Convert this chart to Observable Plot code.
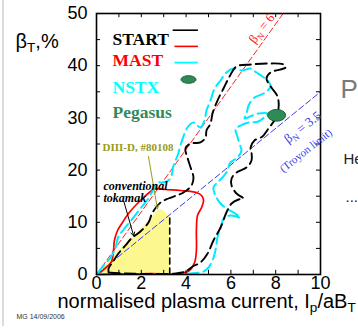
<!DOCTYPE html>
<html>
<head>
<meta charset="utf-8">
<script src="https://cdn.jsdelivr.net/npm/d3@7"></script>
<script src="https://cdn.jsdelivr.net/npm/@observablehq/plot@0.6"></script>
<style>
  html, body { margin: 0; padding: 0; background: white; }
  #wrap { position: relative; width: 358px; height: 328px; overflow: hidden; }
  #wrap::before { content: ""; position: absolute; left: 2px; top: 0; bottom: 2px; width: 2px; background: #dcdcdc; }
</style>
</head>
<body>
<div id="wrap"></div>
<script>
// ---- data ----
const xTicks = [0, 2, 4, 6, 8, 10];
const yTicks = [0, 10, 20, 30, 40, 50];
const xMinorTicks = [1, 2, 3, 4, 5, 6, 7, 8, 9];
const yMinorTicks = [5, 10, 15, 20, 25, 30, 35, 40, 45];
const betaN = [6, 3.5];

const startX = [0.54,1.29,2.41,3.53,3.97,4.29,4.64,4.96,5.22,5.54,5.80,6.03,6.34,6.56,6.25,6.03,6.03,6.25,6.70,6.92,6.92,6.88,7.05,7.41,7.68,7.99,8.13,8.08,7.81,7.59,7.77,8.44,8.35,7.59,6.88,6.25,5.94,5.67,5.40,5.18,5.09,4.91,4.87,4.64,4.20,3.97,4.06,4.20,4.33,4.24,3.88,3.57,3.21,2.86,2.50,2.32,1.96,1.56,1.29,0.98,0.71,0.54,0.54];
const startY = [0.38,0.19,0.10,0.19,0.57,1.53,2.30,4.02,6.51,9.00,11.88,13.60,14.37,14.56,15.52,17.05,18.39,19.54,20.50,21.84,23.37,24.33,25.67,26.44,27.97,29.89,31.99,34.10,35.82,37.55,38.70,39.66,40.23,40.42,40.23,39.85,37.93,35.63,33.33,30.84,28.93,27.59,26.25,25.29,25.10,24.14,22.41,20.50,18.58,17.05,15.71,15.13,14.56,13.79,11.88,9.96,8.24,6.90,5.56,4.02,2.30,1.15,0.38];

const mastX = [0,0.22,0.49,0.67,0.76,0.80,0.94,1.16,1.43,1.96,2.41,2.59,3.08,3.75,4.46,4.69,4.78,4.69,4.51,4.46,4.46,4.38,4.15,3.75,2.41,1.07,0];
const mastY = [0,0.57,1.53,2.49,4.60,6.51,8.43,9.96,11.69,14.18,15.90,16.48,16.28,16.09,15.71,15.13,14.18,12.84,11.30,8.43,4.60,2.30,0.77,0.19,0.15,0.12,0];

const nstxX = [0.04,0.31,0.63,0.85,0.98,1.21,1.65,1.96,2.28,2.54,2.72,2.99,3.30,3.44,3.62,3.79,4.06,4.33,4.64,4.82,4.91,5.09,5.27,5.54,5.80,6.12,6.52,6.88,7.14,7.41,7.68,7.77,7.46,7.05,6.79,6.70,6.61,6.96,7.23,7.63,7.23,6.79,6.43,6.21,6.29,6.38,6.47,6.29,5.98,5.80,5.45,5.22,5.31,5.54,5.80,6.12,6.43,5.98,5.71,5.54,5.40,5.31,5.18,5.00,4.78,4.20,2.41,0.63,0.04];
const nstxY = [0.19,1.72,3.26,5.17,7.28,8.62,10.92,12.64,14.37,16.28,17.62,17.62,18.39,20.88,22.80,25.29,28.16,29.12,28.16,29.50,31.42,33.33,35.63,37.16,38.70,39.46,39.08,39.46,38.70,37.93,36.97,36.02,34.67,33.91,32.38,30.84,29.89,30.46,30.84,30.84,29.31,29.12,28.54,27.78,26.44,25.10,23.75,22.41,21.46,19.54,17.82,16.67,15.13,13.60,12.64,11.88,10.92,11.30,10.92,9.00,7.09,4.60,2.68,1.34,0.57,0.19,0.10,0.10,0.19];

const diiidX = [0,0.55,0.95,1.40,1.80,2.20,2.55,2.78,2.95,3.15,3.27];
const diiidY = [0,2.4,4.3,6.2,7.8,9.6,11.3,12.5,12.3,11.6,10.8];

const pegasusX = [8.04];
const pegasusY = [30.5];

const legendNames = ["START", "MAST", "NSTX", "Pegasus"];
const legendColors = ["black", "#ff0000", "#00ffff", "#2e8b57"];

// ---- tables ----
const zip = (xs, ys) => xs.map((x, i) => ({x, y: ys[i]}));
const start = zip(startX, startY);
const mast = zip(mastX, mastY);
const nstx = zip(nstxX, nstxY);
const diiid = zip(diiidX, diiidY);
const pegasus = zip(pegasusX, pegasusY);
const betaLines = betaN.flatMap(b => [{b, x: 0, y: 0}, {b, x: Math.min(10, 50 / b), y: Math.min(10, 50 / b) * b}]);
const diiidEdge = [diiid[diiid.length - 1], {x: diiid[diiid.length - 1].x, y: 0}];

function ellipseSymbol(ratio) {
  return {
    draw(ctx, size) {
      const rx = Math.sqrt(size / Math.PI), ry = rx * ratio, k = 0.5523;
      ctx.moveTo(rx, 0);
      ctx.bezierCurveTo(rx, k * ry, k * rx, ry, 0, ry);
      ctx.bezierCurveTo(-k * rx, ry, -rx, k * ry, -rx, 0);
      ctx.bezierCurveTo(-rx, -k * ry, -k * rx, -ry, 0, -ry);
      ctx.bezierCurveTo(k * rx, -ry, rx, -k * ry, rx, 0);
      ctx.closePath();
    }
  };
}

const sans = "'Liberation Sans', Arial, sans-serif";
const serif = "'Liberation Serif', 'Times New Roman', serif";

const legendDy = [19, 40, 67, 92];

const chart = Plot.plot({
  width: 358,
  height: 328,
  marginLeft: 96,
  marginRight: 38,
  marginTop: 13,
  marginBottom: 54,
  x: {domain: [0, 10], axis: null},
  y: {domain: [0, 50], axis: null},
  style: {background: "white", overflow: "visible"},
  marks: [
    Plot.areaY(diiid, {x: "x", y: "y", fill: "#fcf78e"}),
    Plot.line(betaLines.filter(d => d.b === 3.5), {x: "x", y: "y", stroke: "#3b3bf0", strokeWidth: 1, strokeDasharray: "6,3"}),
    Plot.line(betaLines.filter(d => d.b === 6), {x: "x", y: "y", stroke: "#ff2020", strokeWidth: 1, strokeDasharray: "6,3"}),
    Plot.line(mast, {x: "x", y: "y", stroke: "#ff0000", strokeWidth: 1.7, curve: "catmull-rom"}),
    Plot.line(nstx, {x: "x", y: "y", stroke: "#00eaff", strokeWidth: 2, strokeDasharray: "11,5", curve: "catmull-rom"}),
    Plot.line(start, {x: "x", y: "y", stroke: "black", strokeWidth: 1.9, strokeDasharray: "11,5", curve: "catmull-rom"}),
    Plot.line(diiidEdge, {x: "x", y: "y", stroke: "black", strokeWidth: 1.6, strokeDasharray: "6,4"}),
    Plot.dot(pegasus, {x: "x", y: "y", r: 9, symbol: ellipseSymbol(0.65), fill: "#2e8b57", stroke: "#1d5c39", strokeWidth: 1}),
    // arrows
    Plot.arrow([0], {x1: 2.32, y1: 22.6, x2: 2.72, y2: 12.6, stroke: "#9a9a20", strokeWidth: 1, headLength: 6}),
    Plot.arrow([0], {x1: 1.22, y1: 14.0, x2: 1.66, y2: 7.4, stroke: "black", strokeWidth: 1, headLength: 6}),
    // frame and inward ticks
    Plot.frame({stroke: "black", strokeWidth: 1.6}),
    Plot.ruleX(xMinorTicks, {x: d => d, y1: 0, y2: 0.8, stroke: "black", strokeWidth: 1}),
    Plot.ruleX(xMinorTicks, {x: d => d, y1: 49.2, y2: 50, stroke: "black", strokeWidth: 1}),
    Plot.ruleY(yMinorTicks, {y: d => d, x1: 0, x2: 0.18, stroke: "black", strokeWidth: 1}),
    Plot.ruleY(yMinorTicks, {y: d => d, x1: 9.82, x2: 10, stroke: "black", strokeWidth: 1}),
    // tick labels
    Plot.text(xTicks, {x: d => d, text: d => String(d), frameAnchor: "bottom", dy: 14, fontSize: 18, fontFamily: sans, fill: "black"}),
    Plot.text(yTicks, {y: d => d, text: d => String(d), frameAnchor: "left", dx: -9, textAnchor: "end", fontSize: 18, fontFamily: sans, fill: "black"}),
    // axis titles
    Plot.text(["β_T,%"], {frameAnchor: "top-left", dx: -81, dy: 20, textAnchor: "start", fontSize: 20, fontFamily: sans, fill: "black"}),
    Plot.text(["normalised plasma current, I_p/aB_T"], {frameAnchor: "bottom-left", dx: -39, dy: 33, textAnchor: "start", fontSize: 20, fontFamily: sans, fill: "black"}),
    // legend
    ...legendNames.map((name, i) => Plot.text([name], {frameAnchor: "top-left", dx: 16, dy: legendDy[i], textAnchor: "start", fontSize: 17.5, fontWeight: "bold", fontFamily: serif, fill: legendColors[i]})),
    Plot.ruleY([46.8], {x1: 3.42, x2: 4.55, stroke: "black", strokeWidth: 1.6}),
    Plot.ruleY([43.7], {x1: 3.5, x2: 4.55, stroke: "#ff0000", strokeWidth: 1.6}),
    Plot.ruleY([40.6], {x1: 3.5, x2: 4.55, stroke: "#00ffff", strokeWidth: 1.8}),
    Plot.dot([0], {frameAnchor: "top-left", dx: 92, dy: 66, r: 7.5, symbol: ellipseSymbol(0.5), fill: "#2e8b57", stroke: "#1d5c39", strokeWidth: 1}),
    // annotations
    Plot.text(["DIII-D, #80108"], {frameAnchor: "top-left", dx: 6, dy: 130, textAnchor: "start", fontSize: 11, fontWeight: "bold", fontFamily: serif, fill: "#9a9a20"}),
    Plot.text(["conventional\ntokamak"], {frameAnchor: "top-left", dx: 7, dy: 168, textAnchor: "start", lineHeight: 1.0, fontSize: 12, fontWeight: "bold", fontStyle: "italic", fontFamily: serif, fill: "black"}),
    Plot.text(["β_N = 6"], {frameAnchor: "top-left", dx: 151, dy: 25, rotate: -52, fontSize: 13, fontFamily: serif, fill: "#ff2020"}),
    Plot.text(["β_N = 3.5"], {frameAnchor: "top-left", dx: 186, dy: 123, rotate: -38, fontSize: 13, fontFamily: serif, fill: "#3b3bf0"}),
    Plot.text(["(Troyon limit)"], {frameAnchor: "top-left", dx: 182, dy: 153, rotate: -38, fontSize: 11, fontFamily: serif, fill: "#3b3bf0"}),
    // slide remnants
    Plot.text(["Pl"], {frameAnchor: "top-right", dx: 20, dy: 66, textAnchor: "start", fontSize: 26, fontFamily: sans, fill: "#7a7a7a"}),
    Plot.text(["He"], {frameAnchor: "top-right", dx: 23, dy: 140, textAnchor: "start", fontSize: 15, fontFamily: sans, fill: "#222"}),
    Plot.text(["..."], {frameAnchor: "top-right", dx: 25, dy: 178, textAnchor: "start", fontSize: 15, fontFamily: sans, fill: "#222"}),
    Plot.text(["MG 14/09/2006"], {frameAnchor: "bottom-left", dx: -80, dy: 44, textAnchor: "start", fontSize: 7, fontFamily: sans, fill: "#333"})
  ]
});

// subscripts: "_x" -> subscript x
const ns = "http://www.w3.org/2000/svg";
chart.querySelectorAll("text").forEach(t => {
  const s = t.textContent;
  if (!s.includes("_") || t.querySelector("tspan")) return;
  const parts = s.split(/_(\w)/);
  t.textContent = "";
  parts.forEach((p, i) => {
    if (!p) return;
    const ts = document.createElementNS(ns, "tspan");
    ts.textContent = p;
    if (i % 2 === 1) {
      ts.setAttribute("font-size", "0.68em");
      ts.setAttribute("baseline-shift", "-28%");
    }
    t.appendChild(ts);
  });
});

document.getElementById("wrap").appendChild(chart);
</script>
</body>
</html>
